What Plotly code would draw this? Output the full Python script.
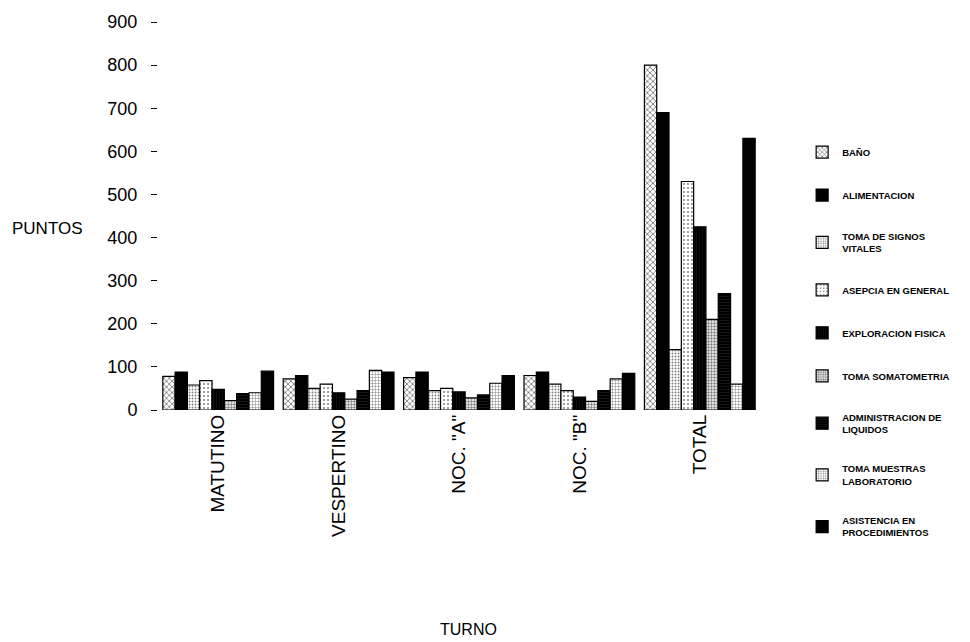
import plotly.graph_objects as go

turnos = ["MATUTINO", "VESPERTINO", 'NOC. "A"', 'NOC. "B"', "TOTAL"]

series_names = [
    "BAÑO",
    "ALIMENTACION",
    "TOMA DE SIGNOS<br>VITALES",
    "ASEPCIA EN GENERAL",
    "EXPLORACION FISICA",
    "TOMA SOMATOMETRIA",
    "ADMINISTRACION DE<br>LIQUIDOS",
    "TOMA MUESTRAS<br>LABORATORIO",
    "ASISTENCIA EN<br>PROCEDIMIENTOS",
]

bano = [78, 72, 75, 80, 800]
alimentacion = [88, 80, 88, 88, 690]
signos = [58, 50, 45, 60, 140]
asepcia = [68, 60, 50, 45, 530]
exploracion = [48, 40, 42, 30, 425]
somatometria = [22, 25, 28, 20, 210]
liquidos = [38, 45, 35, 45, 270]
muestras = [40, 92, 62, 72, 60]
asistencia = [90, 88, 80, 85, 630]

values = [bano, alimentacion, signos, asepcia, exploracion,
          somatometria, liquidos, muestras, asistencia]

styles = [
    dict(color="white", pattern=dict(shape="x", fgcolor="black", bgcolor="white", size=4, solidity=0.4)),
    dict(color="black"),
    dict(color="white", pattern=dict(shape=".", fgcolor="black", bgcolor="white", size=3, solidity=0.3)),
    dict(color="white", pattern=dict(shape=".", fgcolor="black", bgcolor="white", size=4, solidity=0.2)),
    dict(color="black", pattern=dict(shape="|", fgcolor="#333", bgcolor="black", size=3, solidity=0.2)),
    dict(color="white", pattern=dict(shape=".", fgcolor="black", bgcolor="white", size=3, solidity=0.5)),
    dict(color="black", pattern=dict(shape="-", fgcolor="#444", bgcolor="black", size=3, solidity=0.2)),
    dict(color="white", pattern=dict(shape="+", fgcolor="black", bgcolor="white", size=3, solidity=0.3)),
    dict(color="black"),
]

fig = go.Figure()
for i, (name, vals, st) in enumerate(zip(series_names, values, styles)):
    fig.add_trace(go.Bar(
        x=turnos, y=vals, name=name, legendgroup=f"g{i}",
        marker=dict(line=dict(color="black", width=1.2), **st),
    ))

fig.update_layout(
    width=970, height=642,
    margin=dict(l=158, r=210, t=22, b=232),
    paper_bgcolor="white", plot_bgcolor="white",
    barmode="group", bargap=0.08, bargroupgap=0.0,
    font=dict(family="Arial, Liberation Sans, sans-serif", color="black"),
    showlegend=True,
    legend=dict(
        x=1.07, y=0.702, xanchor="left", yanchor="top",
        font=dict(size=9.5, family="Liberation Sans, Arial, sans-serif", color="black", weight="bold"),
        traceorder="grouped", tracegroupgap=24,
        itemwidth=30, maxheight=620,
    ),
    xaxis=dict(
        tickangle=-90, tickfont=dict(size=19), showline=False, ticks="",
        automargin=False,
    ),
    yaxis=dict(
        range=[0, 900], dtick=100, tickfont=dict(size=18),
        ticks="outside", ticklen=6, tickcolor="black", ticklabelstandoff=10,
        showgrid=False, showline=False, zeroline=False, automargin=False,
    ),
    annotations=[
        dict(text="PUNTOS", x=-0.246, y=0.469, xref="paper", yref="paper",
             showarrow=False, font=dict(size=17), xanchor="left", yanchor="middle"),
        dict(text="TURNO", x=0.515, y=-0.567, xref="paper", yref="paper",
             showarrow=False, font=dict(size=16), xanchor="center", yanchor="middle"),
    ],
)

fig.write_html("out.html")
